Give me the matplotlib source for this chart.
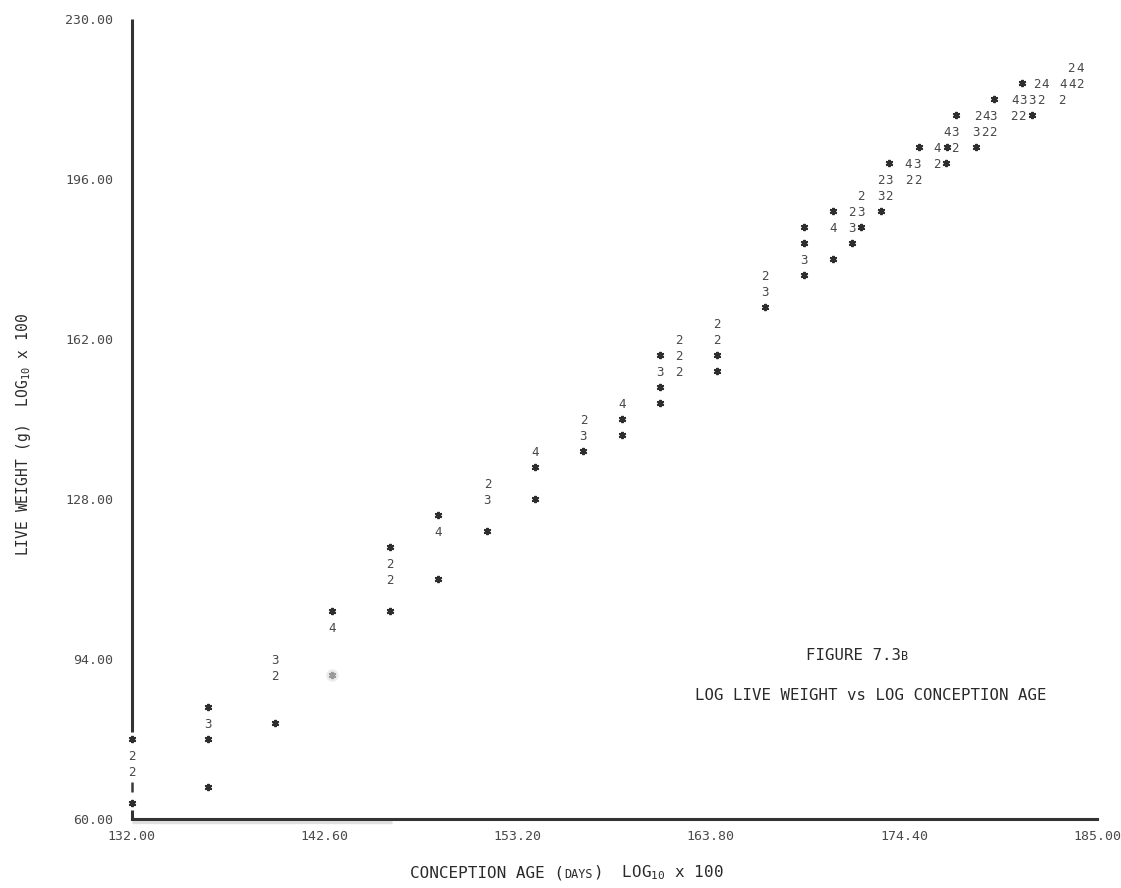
import matplotlib
matplotlib.use("Agg")
import matplotlib.pyplot as plt
from matplotlib.offsetbox import TextArea, HPacker, AnchoredOffsetbox
import matplotlib.transforms as mtransforms

plt.rcParams['font.family'] = ['DejaVu Sans Mono']
plt.rcParams['mathtext.fontset'] = 'custom'
plt.rcParams['mathtext.rm'] = 'DejaVu Sans Mono'
plt.rcParams['mathtext.default'] = 'rm'

# ---- data: log10 conception age x 100  vs  log10 live weight x 100 ----
# each printed row of the line-printer plot spans 3.4 weight units
ROW = 3.4
Y_MIN, Y_MAX = 60.0, 230.0
X_MIN, X_MAX = 132.0, 185.0

# single observations (printed '*')
single_age = [180.87,
              179.35,
              177.27, 181.42,
              175.20, 176.75, 178.37,
              173.60, 176.72,
              170.50, 173.13,
              168.89, 172.05,
              168.89, 171.56,
              170.50,
              168.89,
              166.78,
              161.03, 164.14,
              164.14,
              161.03,
              161.03,
              158.92,
              158.92,
              156.80,
              154.15,
              154.15,
              148.84,
              151.53,
              146.18,
              148.84,
              143.00, 146.18,
              136.17,
              139.87,
              132.00, 136.17,
              136.17,
              132.00]
single_weight = [216.4,
                 213.0,
                 209.6, 209.6,
                 202.8, 202.8, 202.8,
                 199.4, 199.4,
                 189.2, 189.2,
                 185.8, 185.8,
                 182.4, 182.4,
                 179.0,
                 175.6,
                 168.8,
                 158.6, 158.6,
                 155.2,
                 151.8,
                 148.4,
                 145.0,
                 141.6,
                 138.2,
                 134.8,
                 128.0,
                 124.6,
                 121.2,
                 117.8,
                 111.0,
                 104.2, 104.2,
                 83.8,
                 80.4,
                 77.0, 77.0,
                 66.8,
                 63.4]

# coincident observations (printed as the number of points in the cell)
multi_age = [183.57, 184.08,
             181.70, 182.15, 183.16, 183.62, 184.08,
             180.51, 180.96, 181.42, 181.92, 183.07,
             178.44, 178.91, 179.31, 180.41, 180.87,
             176.75, 177.21, 178.37, 178.86, 179.31,
             176.24, 177.21,
             174.65, 175.14, 176.21,
             173.13, 173.60, 174.65, 175.14,
             172.05, 173.13, 173.60,
             171.56, 172.05,
             170.50, 171.56,
             168.89,
             166.78,
             166.78,
             164.14,
             162.06, 164.14,
             162.06,
             161.03, 162.06,
             158.92,
             156.80,
             156.80,
             154.15,
             151.53,
             151.53,
             148.84,
             146.18,
             146.18,
             143.00,
             139.87,
             139.87,
             136.17,
             132.00,
             132.00]
multi_weight = [219.8, 219.8,
                216.4, 216.4, 216.4, 216.4, 216.4,
                213.0, 213.0, 213.0, 213.0, 213.0,
                209.6, 209.6, 209.6, 209.6, 209.6,
                206.2, 206.2, 206.2, 206.2, 206.2,
                202.8, 202.8,
                199.4, 199.4, 199.4,
                196.0, 196.0, 196.0, 196.0,
                192.6, 192.6, 192.6,
                189.2, 189.2,
                185.8, 185.8,
                179.0,
                175.6,
                172.2,
                165.4,
                162.0, 162.0,
                158.6,
                155.2, 155.2,
                148.4,
                145.0,
                141.6,
                138.2,
                131.4,
                128.0,
                121.2,
                114.4,
                111.0,
                100.8,
                94.0,
                90.6,
                80.4,
                73.6,
                70.2]
multi_count = [2, 4,
               2, 4, 4, 4, 2,
               4, 3, 3, 2, 2,
               2, 4, 3, 2, 2,
               4, 3, 3, 2, 2,
               4, 2,
               4, 3, 2,
               2, 3, 2, 2,
               2, 3, 2,
               2, 3,
               4, 3,
               3,
               2,
               3,
               2,
               2, 2,
               2,
               3, 2,
               4,
               2,
               3,
               4,
               2,
               3,
               4,
               2,
               2,
               4,
               3,
               2,
               3,
               2,
               2]

# a partly erased observation
faint_age = [143.00]
faint_weight = [90.6]

x_ticks = [132.0, 142.6, 153.2, 163.8, 174.4, 185.0]
y_ticks = [60.0, 94.0, 128.0, 162.0, 196.0, 230.0]

INK = '#2e2e2e'
DIGIT = '#474747'
AXIS_C = '#333333'

W, H = 1121, 888
fig = plt.figure(figsize=(W / 100, H / 100), dpi=100)
ax = fig.add_axes([131.7 / W, 1 - 819 / H, (1097 - 131.7) / W, (819 - 19) / H])
ax.set_xlim(X_MIN, X_MAX)
ax.set_ylim(Y_MIN, Y_MAX)

for side in ('top', 'right', 'left'):
    ax.spines[side].set_visible(False)
ax.spines['bottom'].set_color(AXIS_C)
ax.spines['bottom'].set_linewidth(2.2)
ax.spines['bottom'].set_zorder(3)

# faint shadow under the left part of the horizontal axis
shadow = mtransforms.offset_copy(ax.transData, fig=fig, y=-2.0, units='points')
ax.plot([X_MIN, X_MIN + 0.27 * (X_MAX - X_MIN)], [Y_MIN, Y_MIN], color='#e0e0e0',
        lw=2.4, transform=shadow, clip_on=False, zorder=2, solid_capstyle='butt')


def row_y(k):
    return Y_MAX - ROW * k


# vertical axis: ruled down to the first printed point, printed below it
vk = dict(color=AXIS_C, lw=2.2, clip_on=False, solid_capstyle='butt', zorder=3)
ax.plot([X_MIN, X_MIN], [row_y(45) + 0.45 * ROW, Y_MAX], **vk)
ax.plot([X_MIN, X_MIN], [row_y(48) - 0.33 * ROW, row_y(48) + 0.33 * ROW],
        color='#3a3a3a', lw=1.8, clip_on=False, solid_capstyle='butt', zorder=3)
ax.plot([X_MIN, X_MIN], [Y_MIN, row_y(49) - 0.45 * ROW], **vk)

# ticks
ax.set_xticks(x_ticks, labels=[f"{v:.2f}" for v in x_ticks])
ax.set_yticks(y_ticks, labels=[f"{v:.2f}" for v in y_ticks])
ax.tick_params(axis='x', length=0, pad=8, labelsize=9.5, labelcolor='#4a4a4a')
ax.tick_params(axis='y', length=0, pad=13.5, labelsize=9.5, labelcolor='#4a4a4a')

# observations
ax.plot(single_age, single_weight, ls='none', marker=(6, 2, 0), ms=5.2, mew=1.5,
        color=INK, clip_on=False, zorder=4)
ax.plot(faint_age, faint_weight, ls='none', marker='o', ms=9, color='#ececec',
        mec='none', zorder=3)
ax.plot(faint_age, faint_weight, ls='none', marker=(6, 2, 0), ms=5.2, mew=1.5,
        color='#9a9a9a', zorder=4)
for xa, yw, n in zip(multi_age, multi_weight, multi_count):
    ax.text(xa, yw, str(n), ha='center', va='center_baseline', fontsize=9,
            color=DIGIT, zorder=4, clip_on=False)

# axis titles
ax_title = dict(fontsize=10.5, color='#2a2a2a')
fig.text(24 / W, 1 - 435 / H, "LIVE WEIGHT (g)  LOG$_{10}$ x 100", rotation=90,
         ha='center', va='center', **ax_title)

xt = dict(fontsize=11.5, color='#2a2a2a')
xlabel_box = HPacker(children=[TextArea("CONCEPTION AGE (", textprops=xt),
                               TextArea("DAYS", textprops=dict(xt, fontsize=8.5)),
                               TextArea(")  LOG$_{10}$ x 100", textprops=xt)],
                     align='baseline', pad=0, sep=0)
fig.add_artist(AnchoredOffsetbox(loc='center', child=xlabel_box, frameon=False,
                                 bbox_to_anchor=(567 / W, 1 - 873 / H),
                                 bbox_transform=fig.transFigure, pad=0, borderpad=0))

# figure caption
cap = dict(fontsize=11.3, color='#2a2a2a')
fig_box = HPacker(children=[TextArea("FIGURE 7.3", textprops=cap),
                            TextArea("B", textprops=dict(cap, fontsize=8.5))],
                  align='baseline', pad=0, sep=0)
fig.add_artist(AnchoredOffsetbox(loc='center', child=fig_box, frameon=False,
                                 bbox_to_anchor=(857 / W, 1 - 655 / H),
                                 bbox_transform=fig.transFigure, pad=0, borderpad=0))
fig.text(871 / W, 1 - 695 / H, "LOG LIVE WEIGHT vs LOG CONCEPTION AGE",
         ha='center', va='center', **cap)

fig.savefig("out.png", dpi=100, facecolor='white')
